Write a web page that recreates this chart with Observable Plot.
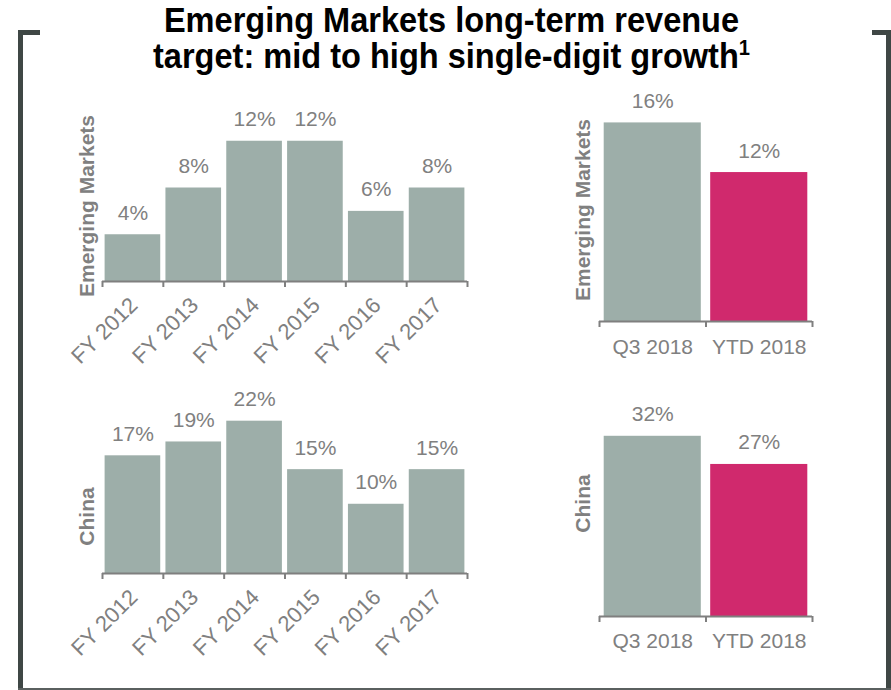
<!DOCTYPE html>
<html><head><meta charset="utf-8">
<script src="https://cdn.jsdelivr.net/npm/d3@7"></script>
<script src="https://cdn.jsdelivr.net/npm/@observablehq/plot@0.6"></script>
<style>
body{margin:0;background:#fff;font-family:"Liberation Sans",Arial,sans-serif;}
#wrap{position:relative;width:891px;height:690px;overflow:hidden;background:#fff;}
.title{position:absolute;left:6px;top:2px;width:891px;text-align:center;font-weight:bold;font-size:35px;line-height:36px;color:#000;transform:scaleX(0.93);transform-origin:center top;white-space:nowrap;}
.sup{font-size:0.62em;position:relative;top:-0.62em;}
.frame{position:absolute;background:#3f4745;}
.panel{position:absolute;}
.panel svg{overflow:visible;}
</style></head><body>
<div id="wrap">
  <div class="title">Emerging Markets long-term revenue<br>target: mid to high single-digit growth<span class="sup">1</span></div>
  <div class="frame" style="left:18px;top:30px;width:4.5px;height:660px"></div>
  <div class="frame" style="left:18px;top:30px;width:22px;height:4.5px"></div>
  <div class="frame" style="left:886px;top:30px;width:4.5px;height:660px"></div>
  <div class="frame" style="left:872px;top:30px;width:18.5px;height:4.5px"></div>
  <div class="frame" style="left:18px;top:688px;width:873px;height:1.5px;background:#5a605f"></div>
  <div id="p1" class="panel" style="left:60px;top:90px"></div>
  <div id="p2" class="panel" style="left:560px;top:80px"></div>
  <div id="p3" class="panel" style="left:60px;top:380px"></div>
  <div id="p4" class="panel" style="left:560px;top:380px"></div>
</div>
<script>
// ---- data ----
const fiscalYears = ["FY 2012", "FY 2013", "FY 2014", "FY 2015", "FY 2016", "FY 2017"];
const emergingFY = [4, 8, 12, 12, 6, 8];
const chinaFY = [17, 19, 22, 15, 10, 15];
const periods = ["Q3 2018", "YTD 2018"];
const emergingPeriod = [16, 12];
const chinaPeriod = [32, 27];
const regionLabels = ["Emerging Markets", "China"];

// ---- styles ----
const gray = "#9daea9";
const magenta = "#d0296d";
const textColor = "#808080";
const axisColor = "#7f7f7f";
const font = "'Liberation Sans', Arial, sans-serif";

function panel(o) {
  const n = o.cats.length;
  const data = o.cats.map((c, i) => ({c, i, v: o.vals[i], color: o.colors[i]}));
  return Plot.plot({
    width: o.width, height: o.height,
    marginTop: o.mt, marginBottom: o.mb, marginLeft: o.ml, marginRight: o.mr,
    style: {fontFamily: font, background: "transparent", overflow: "visible"},
    x: {type: "linear", domain: [0, n], axis: null},
    y: {domain: [0, o.ymax], axis: null},
    color: {type: "identity"},
    marks: [
      Plot.rectY(data, {x1: "i", x2: d => d.i + 1, y1: 0, y2: "v", fill: "color", insetLeft: o.inset, insetRight: o.inset}),
      Plot.ruleY([0], {stroke: axisColor, strokeWidth: 2}),
      Plot.axisX(d3.range(n + 1), {tickSize: 6, tickFormat: () => "", stroke: axisColor, strokeWidth: 2, label: null}),
      Plot.axisX(data.map(d => d.i + 0.5), {
        tickSize: 0, tickPadding: o.tickPad, tickRotate: o.rotate,
        tickFormat: t => o.cats[Math.floor(t)], fontSize: o.tickFont, fill: textColor, label: null,
        dx: o.tdx || 0, dy: o.tdy || 0
      }),
      Plot.text(data, {x: d => d.i + 0.5, y: "v", text: d => d.v + "%", lineAnchor: "bottom", dy: -15, fontSize: 21, fill: textColor}),
      Plot.text([o.label], {text: d => d, frameAnchor: "left", textAnchor: "middle", rotate: -90, dx: o.ldx, dy: o.ldy, fontSize: 21, fontWeight: "bold", fill: textColor})
    ]
  });
}

document.getElementById("p1").append(panel({
  cats: fiscalYears, vals: emergingFY, colors: fiscalYears.map(() => gray), label: regionLabels[0],
  width: 420, height: 300, mt: 4, mb: 109, ml: 42, mr: 13, ymax: 16, inset: 2.6,
  rotate: -45, tickPad: 20, tickFont: 22, tdx: 1, tdy: 0, ldx: -15, ldy: 18
}));
document.getElementById("p2").append(panel({
  cats: periods, vals: emergingPeriod, colors: [gray, magenta], label: regionLabels[0],
  width: 280, height: 300, mt: 30, mb: 59, ml: 39, mr: 28, ymax: 17, inset: 4.7,
  rotate: 0, tickPad: 18, tickFont: 21, ldx: -16, ldy: -6
}));
document.getElementById("p3").append(panel({
  cats: fiscalYears, vals: chinaFY, colors: fiscalYears.map(() => gray), label: regionLabels[1],
  width: 420, height: 310, mt: 13, mb: 117, ml: 42, mr: 13, ymax: 26, inset: 2.6,
  rotate: -45, tickPad: 20, tickFont: 22, tdx: 1, tdy: 0, ldx: -15, ldy: 33
}));
document.getElementById("p4").append(panel({
  cats: periods, vals: chinaPeriod, colors: [gray, magenta], label: regionLabels[1],
  width: 280, height: 310, mt: 22, mb: 74, ml: 39, mr: 28, ymax: 38, inset: 4.7,
  rotate: 0, tickPad: 17, tickFont: 21, ldx: -16, ldy: -6
}));
</script>
</body></html>
